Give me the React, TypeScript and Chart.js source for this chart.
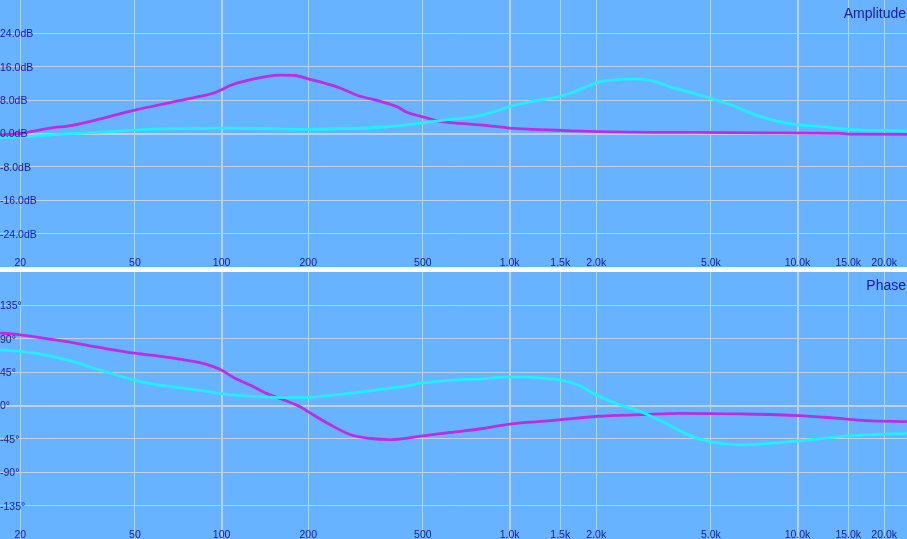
import React, { useEffect, useRef } from "react";
import { Chart, registerables } from "chart.js";

Chart.register(...registerables);

const X_TICKS = [20, 50, 100, 200, 500, 1000, 1500, 2000, 5000, 10000, 15000, 20000];
const X_TICK_LABELS = ["20", "50", "100", "200", "500", "1.0k", "1.5k", "2.0k", "5.0k", "10.0k", "15.0k", "20.0k"];
const X_MIN = 17;
const X_MAX = 24000;

const AMP_TICKS = [-24, -16, -8, 0, 8, 16, 24];
const AMP_TICK_LABELS = ["-24.0dB", "-16.0dB", "-8.0dB", "0.0dB", "8.0dB", "16.0dB", "24.0dB"];
const PHASE_TICKS = [-135, -90, -45, 0, 45, 90, 135];
const PHASE_TICK_LABELS = ["-135°", "-90°", "-45°", "0°", "45°", "90°", "135°"];

// Amplitude – magenta
const AMP_M_F = [17, 20, 22, 25.4, 30, 38, 50, 65, 84, 94, 100, 107, 126, 144, 160, 180, 200, 227, 258, 297, 356, 407, 440, 500, 574, 712, 838, 1000, 1200, 1580, 2030, 4300, 8000, 14000, 15000, 24000];
const AMP_M_DB = [-0.3, 0, 0.5, 1.3, 1.9, 3.5, 5.6, 7.3, 8.9, 9.7, 10.5, 11.5, 12.9, 13.7, 14.0, 13.9, 13.1, 12.1, 10.9, 9.1, 7.7, 6.4, 5.1, 4.0, 2.9, 2.3, 1.9, 1.3, 1.0, 0.7, 0.45, 0.25, 0.15, 0.05, -0.15, -0.2];

// Amplitude – cyan
const AMP_C_F = [17, 20, 29, 38, 49, 65, 100, 140, 188, 280, 356, 417, 500, 574, 656, 749, 838, 928, 1000, 1200, 1460, 1660, 1920, 2030, 2350, 2670, 3120, 3640, 4340, 5070, 5940, 7190, 8400, 10000, 11600, 15100, 24000];
const AMP_C_DB = [-1.0, -0.8, -0.1, 0.3, 0.8, 1.1, 1.3, 1.2, 1.0, 1.2, 1.5, 1.9, 2.55, 3.1, 3.5, 4.0, 4.8, 5.7, 6.5, 7.7, 8.7, 9.9, 11.7, 12.3, 12.9, 13.1, 12.7, 11.1, 9.7, 8.3, 6.7, 4.4, 3.0, 2.1, 1.75, 1.0, 0.65];

// Phase – magenta
const PH_M_F = [17, 18.4, 22.2, 29, 38, 50, 65, 84, 94, 100, 110, 126, 144, 168, 188, 201, 236, 281, 329, 385, 500, 621, 810, 1000, 1390, 2030, 2880, 3940, 6440, 10100, 13300, 17400, 24000];
const PH_M_DEG = [97.7, 96.8, 93, 86, 78, 70.5, 65, 57.7, 52, 47.7, 37.7, 27.3, 16, 6, -2, -9, -25, -39.5, -44.5, -46, -41, -36.4, -31, -25, -20.5, -14.5, -12.3, -10.5, -11.4, -13.6, -16.8, -20.5, -21.8];

// Phase – cyan
const PH_C_F = [17, 21.7, 29, 38, 50, 65, 84, 100, 126, 188, 281, 417, 500, 621, 810, 1000, 1270, 1520, 1740, 1980, 2360, 2880, 3530, 4110, 4990, 6320, 7750, 10100, 15100, 24000];
const PH_C_DEG = [75, 71.4, 61.4, 47.7, 34, 26, 20.5, 16, 12.3, 10.5, 16.8, 25, 30.5, 34, 36, 38.6, 37.3, 34, 27.3, 15, 2.3, -9, -25, -38.6, -49, -53, -51.4, -47.7, -41, -37.7];

const MAGENTA = "#BC2EE4";
const CYAN = "#22EEFF";
const BG = "#68B3FF";
const GRID = "#BCD0EA";
const TEXT = "#1A1AA0";
const FONT = "Liberation Sans, Arial, sans-serif";

function pts(f: number[], v: number[]) {
  return f.map((x, i) => ({ x, y: v[i] }));
}

function makeConfig(
  title: string,
  yMin: number,
  yMax: number,
  yTicks: number[],
  yLabels: string[],
  series: { data: { x: number; y: number }[]; color: string }[]
): any {
  const bgPlugin = {
    id: "bg",
    beforeDraw(chart: any) {
      const { ctx, width, height } = chart;
      ctx.save();
      ctx.fillStyle = BG;
      ctx.fillRect(0, 0, width, height);
      ctx.restore();
    },
  };
  const labelPlugin = {
    id: "labels",
    afterDatasetsDraw(chart: any) {
      const { ctx, chartArea } = chart;
      const xs = chart.scales.x;
      const ys = chart.scales.y;
      ctx.save();
      ctx.fillStyle = TEXT;
      ctx.font = `10.5px ${FONT}`;
      ctx.textAlign = "center";
      ctx.textBaseline = "alphabetic";
      X_TICKS.forEach((v, i) => {
        ctx.fillText(X_TICK_LABELS[i], xs.getPixelForValue(v), chartArea.bottom - 1);
      });
      ctx.textAlign = "left";
      ctx.textBaseline = "middle";
      yTicks.forEach((v, i) => {
        ctx.fillText(yLabels[i], chartArea.left, ys.getPixelForValue(v) + 1);
      });
      ctx.font = `14px ${FONT}`;
      ctx.textAlign = "right";
      ctx.textBaseline = "alphabetic";
      ctx.fillText(title, chartArea.right - 1, chartArea.top + 18);
      ctx.restore();
    },
  };
  return {
    type: "line",
    data: {
      datasets: series.map((s) => ({
        data: s.data,
        borderColor: s.color,
        borderWidth: 2.8,
        pointRadius: 0,
        fill: false,
        cubicInterpolationMode: "monotone",
      })),
    },
    options: {
      animation: false,
      responsive: false,
      maintainAspectRatio: false,
      devicePixelRatio: 1,
      layout: { padding: 0 },
      plugins: { legend: { display: false }, tooltip: { enabled: false } },
      scales: {
        x: {
          type: "logarithmic",
          min: X_MIN,
          max: X_MAX,
          afterBuildTicks: (scale: any) => {
            scale.ticks = X_TICKS.map((v) => ({ value: v }));
          },
          ticks: { display: false },
          border: { display: false },
          grid: {
            drawTicks: false,
            color: GRID,
            lineWidth: (ctx: any) =>
              ctx.tick && [100, 1000, 10000].includes(ctx.tick.value) ? 2 : 1,
          },
        },
        y: {
          type: "linear",
          position: "left",
          min: yMin,
          max: yMax,
          afterBuildTicks: (scale: any) => {
            scale.ticks = yTicks.map((v) => ({ value: v }));
          },
          ticks: { display: false },
          border: { display: false },
          grid: {
            drawTicks: false,
            color: GRID,
            lineWidth: (ctx: any) => (ctx.tick && ctx.tick.value === 0 ? 2 : 1),
          },
        },
      },
    },
    plugins: [bgPlugin, labelPlugin],
  };
}

export default function App() {
  const topRef = useRef<HTMLCanvasElement>(null);
  const botRef = useRef<HTMLCanvasElement>(null);

  useEffect(() => {
    const top = new Chart(
      topRef.current!,
      makeConfig("Amplitude", -32, 32, AMP_TICKS, AMP_TICK_LABELS, [
        { data: pts(AMP_C_F, AMP_C_DB), color: CYAN },
        { data: pts(AMP_M_F, AMP_M_DB), color: MAGENTA },
      ])
    );
    const bot = new Chart(
      botRef.current!,
      makeConfig("Phase", -180, 180, PHASE_TICKS, PHASE_TICK_LABELS, [
        { data: pts(PH_C_F, PH_C_DEG), color: CYAN },
        { data: pts(PH_M_F, PH_M_DEG), color: MAGENTA },
      ])
    );
    return () => {
      top.destroy();
      bot.destroy();
    };
  }, []);

  return (
    <div style={{ position: "fixed", left: 0, top: 0, width: 907, height: 539, background: "#FFFFFF" }}>
      <canvas ref={topRef} width={907} height={267} style={{ position: "absolute", left: 0, top: 0, width: 907, height: 267 }} />
      <canvas ref={botRef} width={907} height={267} style={{ position: "absolute", left: 0, top: 272, width: 907, height: 267 }} />
    </div>
  );
}
